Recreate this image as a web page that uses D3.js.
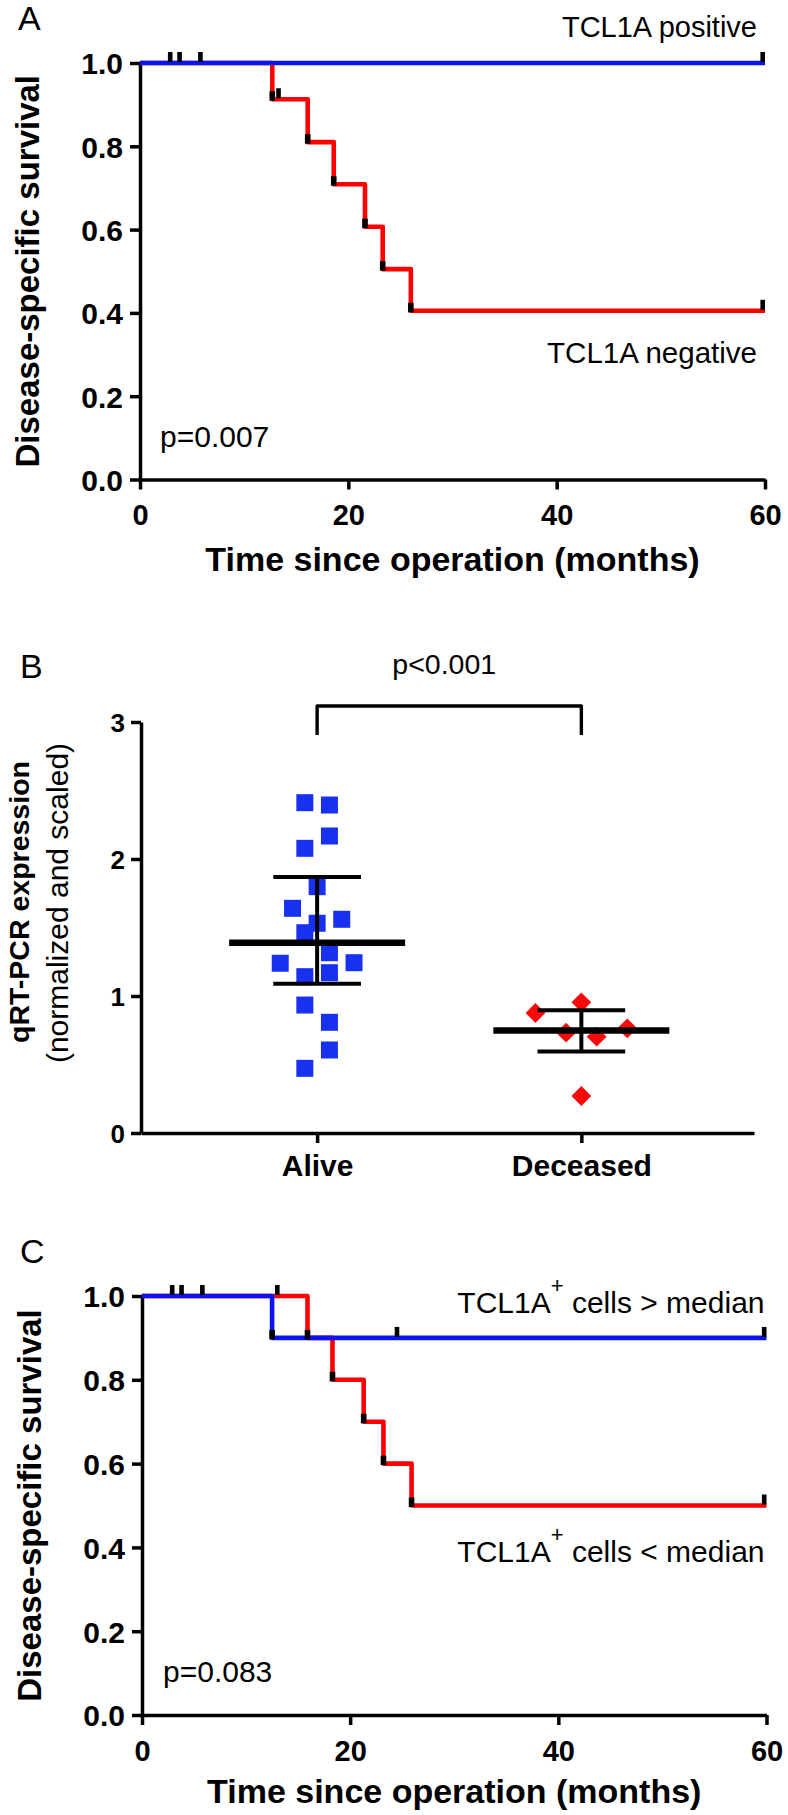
<!DOCTYPE html>
<html><head><meta charset="utf-8">
<script src="https://cdn.jsdelivr.net/npm/d3@7"></script>
<style>
html,body{margin:0;padding:0;background:#fff;}
svg{display:block;font-family:"Liberation Sans",Arial,sans-serif;background:#fff;}
.axis .domain,.axis .tick line{stroke:#000;stroke-width:3.5;}
.axis text{font-weight:bold;fill:#000;font-family:"Liberation Sans",Arial,sans-serif;}
</style></head><body>
<svg id="fig" width="788" height="1815"></svg>
<script>
// ================= DATA =================
const timeTicks = [0, 20, 40, 60];
const survTicks = [0, 0.2, 0.4, 0.6, 0.8, 1.0];

// Panel A : Kaplan-Meier, TCL1A positive vs negative
const aPosTimes  = [0, 60];
const aPosSurv   = [1, 1];
const aPosCensor = [2.9, 3.8, 5.8, 60];
const aNegTimes  = [0, 12.7, 16.1, 18.6, 21.6, 23.3, 26.0, 60];
const aNegSurv   = [1, 0.913, 0.81, 0.709, 0.607, 0.505, 0.405, 0.405];
const aNegCensor = [13.3, 60];

// Panel B : qRT-PCR expression by outcome
const groups = ["Alive", "Deceased"];
const aliveValues = [2.411, 2.394, 2.168, 2.078, 1.798, 1.640, 1.560, 1.531, 1.462,
                     1.316, 1.243, 1.239, 1.170, 1.141, 0.934, 0.808, 0.606, 0.472];
const deceasedValues = [0.954, 0.876, 0.764, 0.732, 0.703, 0.270];
const exprTicks = [0, 1, 2, 3];

// Panel C : Kaplan-Meier, TCL1A+ cells above / below median
const cHighTimes  = [0, 12.5, 60];
const cHighSurv   = [1, 0.9, 0.9];
const cHighCensor = [2.9, 3.8, 5.8, 24.5, 60];
const cLowTimes   = [0, 15.9, 18.3, 21.3, 23.2, 25.9, 60];
const cLowSurv    = [1, 0.9, 0.8, 0.7, 0.6, 0.5, 0.5];
const cLowCensor  = [13.0, 60];

// ================= DRAWING =================
const BLUE = "#0a14f0", RED = "#ff0000", SQ_BLUE = "#1830f0", DI_RED = "#f80a0a";
const FONT = '"Liberation Sans",Arial,sans-serif';
const svg = d3.select("#fig");
svg.append("rect").attr("width", 788).attr("height", 1815).attr("fill", "#fff");

function txt(g, x, y, s, o = {}) {
  return g.append("text").attr("x", x).attr("y", y).text(s)
    .attr("font-family", FONT).attr("font-size", o.size || 30)
    .attr("font-weight", o.bold ? "bold" : "normal")
    .attr("text-anchor", o.anchor || "start").attr("fill", "#000");
}
function vtxt(g, bx, cy, s, o = {}) {
  return g.append("text").attr("transform", `translate(${bx},${cy}) rotate(-90)`)
    .text(s).attr("font-family", FONT).attr("font-size", o.size || 30)
    .attr("font-weight", o.bold ? "bold" : "normal")
    .attr("text-anchor", "middle").attr("fill", "#000");
}
function survAt(times, surv, t) {
  let s = surv[0];
  for (let i = 0; i < times.length; i++) if (times[i] <= t) s = surv[i];
  return s;
}

function kmPanel(o) {
  const g = svg.append("g");
  const x = d3.scaleLinear().domain([0, 60]).range(o.xr);
  const y = d3.scaleLinear().domain([0, 1]).range(o.yr);
  g.append("g").attr("class", "axis").attr("transform", `translate(0,${y(0)})`)
    .call(d3.axisBottom(x).tickValues(timeTicks).tickSize(10).tickPadding(15)
      .tickSizeOuter(0).tickFormat(d3.format("d")))
    .call(a => a.selectAll("text").attr("font-size", 29));
  g.append("g").attr("class", "axis").attr("transform", `translate(${x(0)},0)`)
    .call(d3.axisLeft(y).tickValues(survTicks).tickSize(10).tickPadding(7)
      .tickSizeOuter(0).tickFormat(d3.format(".1f")))
    .call(a => a.selectAll("text").attr("font-size", 30).attr("dy", "0.36em"));

  const line = d3.line().x(d => x(d.t)).y(d => y(d.s)).curve(d3.curveStepAfter);
  o.series.forEach(s => {
    const pts = s.times.map((t, i) => ({ t, s: s.surv[i] }));
    g.append("path").attr("d", line(pts)).attr("fill", "none")
      .attr("stroke", s.color).attr("stroke-width", 4.6).attr("stroke-linejoin", "round");
  });
  o.series.forEach(s => {
    s.times.forEach((t, i) => {
      if (i > 0 && s.surv[i] < s.surv[i - 1]) {
        g.append("rect").attr("x", x(t) - 2.8).attr("y", y(s.surv[i]) - 8)
          .attr("width", 5.6).attr("height", 9.5).attr("fill", "#000");
      }
    });
    s.censor.forEach(t => {
      const sv = survAt(s.times, s.surv, t);
      g.append("rect").attr("x", Math.min(x(t) - 2.3, x(60) - 4.6)).attr("y", y(sv) - 11)
        .attr("width", 4.6).attr("height", 10).attr("fill", "#000");
    });
  });
  return { g, x, y };
}

// ---------- Panel A ----------
{
  const p = kmPanel({
    xr: [140, 765], yr: [479.5, 63],
    series: [
      { times: aNegTimes, surv: aNegSurv, censor: aNegCensor, color: RED },
      { times: aPosTimes, surv: aPosSurv, censor: aPosCensor, color: BLUE }
    ]
  });
  txt(p.g, 18, 30, "A", { size: 34 });
  txt(p.g, p.x(60) - 8, p.y(1) - 26, "TCL1A positive", { size: 29, anchor: "end" });
  txt(p.g, p.x(60) - 8, p.y(0.28), "TCL1A negative", { size: 29.5, anchor: "end" });
  txt(p.g, 160, 447, "p=0.007", { size: 30 });
  vtxt(p.g, 39, (p.y(0) + p.y(1)) / 2, "Disease-specific survival", { size: 33, bold: true });
  txt(p.g, (p.x(0) + p.x(60)) / 2, 571, "Time since operation (months)", { size: 34, bold: true, anchor: "middle" });
}

// ---------- Panel B ----------
{
  const g = svg.append("g");
  const xB = d3.scalePoint().domain(groups).range([141, 754]).padding(0.66).align(0.505);
  const yB = d3.scaleLinear().domain([0, 3]).range([1133, 722]);
  g.append("g").attr("class", "axis").attr("transform", `translate(${xB.range()[0]},0)`)
    .call(d3.axisLeft(yB).tickValues(exprTicks).tickSize(10).tickPadding(6)
      .tickSizeOuter(0).tickFormat(d3.format("d")))
    .call(a => a.selectAll("text").attr("font-size", 26).attr("dy", "0.36em"));
  g.append("g").attr("class", "axis").attr("transform", `translate(0,${yB(0)})`)
    .call(d3.axisBottom(xB).tickSize(10).tickPadding(12).tickSizeOuter(0))
    .call(a => a.selectAll("text").attr("font-size", 30));

  function quantile(vals, p) { // (n+1)p percentile, as in the original software
    const s = vals.slice().sort((a, b) => a - b), n = s.length;
    let r = (n + 1) * p; if (r < 1) r = 1; if (r > n) r = n;
    const lo = Math.floor(r), f = r - lo;
    return lo >= n ? s[n - 1] : s[lo - 1] + f * (s[lo] - s[lo - 1]);
  }
  // scatter-dot spreading: rows built bottom-up, points in a row spread symmetrically
  function swarm(vals, cx, symPx, slotPx) {
    const binPx = symPx * 1.24;
    const asc = vals.slice().sort((a, b) => a - b), bins = [];
    let k = 0;
    while (k < asc.length) {
      const y0 = yB(asc[k]); const bin = [asc[k]]; let j = k + 1;
      while (j < asc.length && y0 - yB(asc[j]) < binPx) { bin.push(asc[j]); j++; }
      bins.push(bin); k = j;
    }
    bins.reverse();
    const out = []; let sign = -1;
    bins.forEach(bin => {
      bin.sort((a, b) => b - a);
      const n = bin.length, offs = [];
      for (let m = 0; m < n; m++) offs.push((m - (n - 1) / 2) * 2);
      const sg = n % 2 === 0 ? sign : -1;
      offs.sort((a, b) => Math.abs(b) - Math.abs(a) || (a - b) * -sg);
      if (n % 2 === 0) sign = -sign;
      bin.forEach((v, m) => out.push({ v, x: cx + offs[m] * slotPx, y: yB(v) }));
    });
    return out;
  }
  const sets = [
    { name: "Alive", vals: aliveValues, color: SQ_BLUE, sym: "square" },
    { name: "Deceased", vals: deceasedValues, color: DI_RED, sym: "diamond" }
  ];
  sets.forEach(s => {
    const cx = xB(s.name);
    const pts = s.sym === "square" ? swarm(s.vals, cx, 17, 12.3) : swarm(s.vals, cx, 20, 15.3);
    const sym = d3.symbol().type(d3.symbolSquare).size(s.sym === "square" ? 289 : 196);
    g.selectAll(null).data(pts).enter().append("path")
      .attr("d", sym)
      .attr("transform", d => `translate(${d.x},${d.y})` + (s.sym === "diamond" ? " rotate(45)" : ""))
      .attr("fill", s.color);
  });
  sets.forEach(s => {
    const cx = xB(s.name), st = xB.step();
    const med = d3.median(s.vals), q1 = quantile(s.vals, 0.25), q3 = quantile(s.vals, 0.75);
    g.append("line").attr("x1", cx).attr("x2", cx).attr("y1", yB(q1)).attr("y2", yB(q3))
      .attr("stroke", "#000").attr("stroke-width", 4);
    [q1, q3].forEach(q => g.append("line").attr("x1", cx - st * 0.166).attr("x2", cx + st * 0.166)
      .attr("y1", yB(q)).attr("y2", yB(q)).attr("stroke", "#000").attr("stroke-width", 4));
    g.append("line").attr("x1", cx - st * 0.333).attr("x2", cx + st * 0.333)
      .attr("y1", yB(med)).attr("y2", yB(med)).attr("stroke", "#000").attr("stroke-width", 6.5);
  });
  // significance bracket
  const bTop = 3.117, bBot = 2.905;
  const xa = xB(groups[0]), xd = xB(groups[1]);
  g.append("path").attr("d", `M${xa},${yB(bBot)}V${yB(bTop)}H${xd}V${yB(bBot)}`)
    .attr("fill", "none").attr("stroke", "#000").attr("stroke-width", 3.4).attr("stroke-linejoin", "round");
  txt(g, (xa + xd) / 2 - 5, 674, "p<0.001", { size: 28.5, anchor: "middle" });
  txt(g, 20, 678, "B", { size: 34 });
  vtxt(g, 29, 902, "qRT-PCR expression", { size: 28.5, bold: true });
  vtxt(g, 67.5, 903, "(normalized and scaled)", { size: 30 });
}

// ---------- Panel C ----------
{
  const p = kmPanel({
    xr: [142, 766.5], yr: [1715, 1296],
    series: [
      { times: cLowTimes, surv: cLowSurv, censor: cLowCensor, color: RED },
      { times: cHighTimes, surv: cHighSurv, censor: cHighCensor, color: BLUE }
    ]
  });
  txt(p.g, 20, 1263, "C", { size: 34 });
  function supLabel(yb, rest) {
    const t = txt(p.g, p.x(60) - 2, yb, "", { size: 30, anchor: "end" });
    t.append("tspan").text("TCL1A");
    t.append("tspan").text("+").attr("font-size", 22).attr("dy", -20);
    t.append("tspan").text(rest).attr("dy", 20);
  }
  supLabel(1313, " cells > median");
  supLabel(1562, " cells < median");
  txt(p.g, 163, 1682, "p=0.083", { size: 30 });
  vtxt(p.g, 41, (p.y(0) + p.y(1)) / 2, "Disease-specific survival", { size: 33, bold: true });
  txt(p.g, (p.x(0) + p.x(60)) / 2, 1803, "Time since operation (months)", { size: 34, bold: true, anchor: "middle" });
}
</script>
</body></html>
